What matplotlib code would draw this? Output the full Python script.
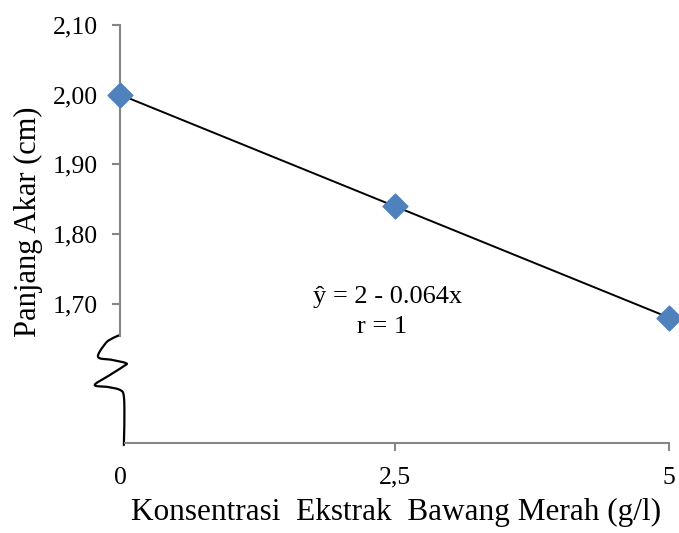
import matplotlib.pyplot as plt
import numpy as np

# konsentrasi ekstrak (g/l) dan panjang akar (cm)
konsentrasi = [0, 2.5, 5]
panjang_akar = [2.00, 1.84, 1.68]
x_ticks = [0, 2.5, 5]
x_ticklabels = ["0", "2,5", "5"]
y_ticks = [1.70, 1.80, 1.90, 2.00, 2.10]
y_ticklabels = ["1,70", "1,80", "1,90", "2,00", "2,10"]

# regresi linier
a, b = 2.0, -0.064

plt.rcParams["font.family"] = ["Liberation Serif", "DejaVu Serif"]
gray = "#868686"


def catmull_rom(pts, n=10):
    # kurva halus lewat titik-titik kontrol
    pts = np.asarray(pts, dtype=float)
    pts = np.vstack([pts[0], pts, pts[-1]])
    out = []
    t = np.linspace(0, 1, n, endpoint=False)[:, None]
    for i in range(1, len(pts) - 2):
        p0, p1, p2, p3 = pts[i - 1], pts[i], pts[i + 1], pts[i + 2]
        seg = 0.5 * (2 * p1 + (-p0 + p2) * t
                     + (2 * p0 - 5 * p1 + 4 * p2 - p3) * t ** 2
                     + (-p0 + 3 * p1 - 3 * p2 + p3) * t ** 3)
        out.append(seg)
    out.append(pts[-2][None, :])
    return np.vstack(out)


fig = plt.figure(figsize=(6.79, 5.33), dpi=100)
ax = fig.add_axes([120 / 679, 1 - 443 / 533, 549 / 679, 418 / 533])

xs = np.array([0, 5])
ax.plot(xs, a + b * xs, color="black", lw=1.4, zorder=2)
ax.scatter(konsentrasi, panjang_akar, marker="D", s=160, color="#4F81BD",
           zorder=3, clip_on=False)

ax.set_xlim(0, 5)
ax.set_ylim(1.5, 2.1)

for s in ["top", "right"]:
    ax.spines[s].set_visible(False)
ax.spines["left"].set_color(gray)
ax.spines["bottom"].set_color(gray)
ax.spines["left"].set_linewidth(1.5)
ax.spines["bottom"].set_linewidth(1.5)
ax.spines["left"].set_bounds(1.654, 2.1)
ax.spines["bottom"].set_bounds(0.045, 5)

ax.set_yticks(y_ticks)
ax.set_yticklabels(y_ticklabels)
ax.set_xticks(x_ticks)
ax.set_xticklabels(x_ticklabels)
ax.tick_params(axis="both", colors=gray, labelcolor="black", labelsize=18.5,
               length=6, width=1.5, direction="out")
ax.tick_params(axis="y", pad=10)
ax.tick_params(axis="x", pad=11)
ax.xaxis.get_major_ticks()[0].tick1line.set_visible(False)

# tanda patah sumbu
zig = catmull_rom([(-0.001, 0.258), (-0.013, 0.251), (-0.026, 0.239),
                   (-0.040, 0.206), (-0.015, 0.199), (0.011, 0.191),
                   (0.007, 0.184), (-0.018, 0.163), (-0.046, 0.139),
                   (-0.022, 0.134), (0.000, 0.127), (0.007, 0.112),
                   (0.008, 0.055), (0.007, -0.005)])
ax.plot(zig[:, 0], zig[:, 1], color="black", lw=1.6, transform=ax.transAxes,
        clip_on=False, solid_joinstyle="round", solid_capstyle="round")

ax.text(2.44, 1.71, "ŷ = 2 - 0.064x", ha="center", va="center", fontsize=19)
ax.text(2.39, 1.667, "r = 1", ha="center", va="center", fontsize=19)

fig.text(396 / 679, 1 - 512 / 533, "Konsentrasi  Ekstrak  Bawang Merah (g/l)",
         ha="center", va="center", fontsize=22.5)
fig.text(28 / 679, 1 - 222 / 533, "Panjang Akar (cm)", rotation=90,
         ha="center", va="center", fontsize=22)

fig.savefig("out.png", dpi=100)
